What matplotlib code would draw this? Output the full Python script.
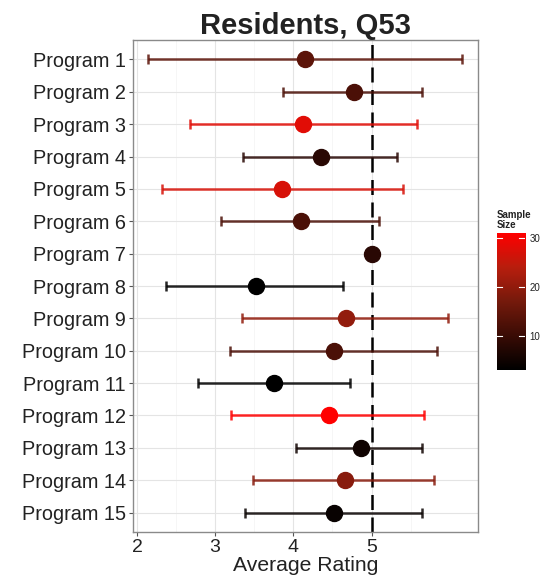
import matplotlib
matplotlib.use('Agg')
import matplotlib.pyplot as plt
import matplotlib.colors as mcolors
import numpy as np

plt.rcParams['font.family'] = ['Liberation Sans', 'DejaVu Sans']

# ── Dados ─────────────────────────────────────────────────────────────────────
PROGRAMS = [f"Program {i}" for i in range(1, 16)]
MEAN  = [4.15, 4.77, 4.13, 4.35, 3.86, 4.10, 5.00, 3.52, 4.67, 4.52, 3.75, 4.46, 4.86, 4.66, 4.52]
LOW   = [2.14, 3.87, 2.68, 3.36, 2.32, 3.08, 5.00, 2.37, 3.35, 3.19, 2.78, 3.20, 4.03, 3.48, 3.38]
HIGH  = [6.16, 5.64, 5.58, 5.32, 5.40, 5.09, 5.00, 4.64, 5.98, 5.84, 4.73, 5.67, 5.64, 5.80, 5.64]
NSIZE = [14, 12, 28, 8, 27, 12, 8, 3, 20, 12, 3, 31, 5, 19, 4]
NMIN, NMAX = 3, 31
TARGET = 5
XTICKS = [2, 3, 4, 5]
CB_TICKS = [10, 20, 30]

# gradiente preto -> vermelho (interpolação aproximada em Lab)
cmap = mcolors.LinearSegmentedColormap.from_list(
    'blackred', ['#000000', '#3a0c05', '#751a0c', '#b81e0e', '#ff0000'])
norm = mcolors.Normalize(vmin=NMIN, vmax=NMAX)

TXT = '#222222'

fig = plt.figure(figsize=(5.43, 5.85), dpi=100)
ax = fig.add_axes([0.245, 0.0906, 0.635, 0.841])

y = np.arange(1, len(PROGRAMS) + 1)

# grade estilo theme_bw
for xv in XTICKS:
    ax.axvline(xv, color='#e4e4e4', lw=0.8, zorder=0)
for xv in [2.5, 3.5, 4.5, 5.5]:
    ax.axvline(xv, color='#f3f3f3', lw=0.5, zorder=0)
for yv in y:
    ax.axhline(yv, color='#e4e4e4', lw=0.8, zorder=0)

ax.axvline(TARGET, color='black', lw=1.8, ls=(0, (6, 3)), zorder=1)

for yi, m, lo, hi, n in zip(y, MEAN, LOW, HIGH, NSIZE):
    c = cmap(norm(n))
    if hi > lo:
        ax.errorbar(m, yi, xerr=[[m - lo], [hi - m]], fmt='none', ecolor=c,
                    elinewidth=1.8, capsize=3.5, capthick=1.8, alpha=0.85, zorder=2)
    ax.plot(m, yi, 'o', color=c, markersize=11.5, zorder=3)

ax.set_xlim(1.95, 6.36)
ax.set_ylim(15.6, 0.4)
ax.set_yticks(y)
ax.set_yticklabels(PROGRAMS, fontsize=14.3, color=TXT)
ax.set_xticks(XTICKS)
ax.set_xticklabels([str(v) for v in XTICKS], fontsize=14, color=TXT)
ax.tick_params(axis='both', length=3, width=0.8, color='#555555', pad=2)
for s in ax.spines.values():
    s.set_color('#8a8a8a')
    s.set_linewidth(1.0)

ax.set_xlabel('Average Rating', fontsize=15.2, color=TXT, labelpad=0)
ax.set_title('Residents, Q53', fontsize=21, fontweight='bold', color=TXT, pad=3)

# barra de cores (tamanho da amostra)
cax = fig.add_axes([0.915, 0.3675, 0.052, 0.234])
grad = np.linspace(NMIN, NMAX, 256).reshape(-1, 1)
cax.imshow(grad, aspect='auto', cmap=cmap, norm=norm, origin='lower',
           extent=[0, 1, NMIN, NMAX])
for t in CB_TICKS:
    cax.plot([0, 0.2], [t, t], color='white', lw=0.8)
    cax.plot([0.8, 1], [t, t], color='white', lw=0.8)
cax.set_xlim(0, 1)
cax.set_ylim(NMIN, NMAX)
cax.set_xticks([])
cax.set_yticks(CB_TICKS)
cax.yaxis.tick_right()
cax.tick_params(axis='y', length=0, labelsize=7, pad=3, labelcolor=TXT)
for s in cax.spines.values():
    s.set_visible(False)
cax.set_title('Sample\nSize', fontsize=7, fontweight='bold', color=TXT,
              loc='left', pad=4, linespacing=0.9)

fig.savefig('out.png', dpi=100, facecolor='white')
